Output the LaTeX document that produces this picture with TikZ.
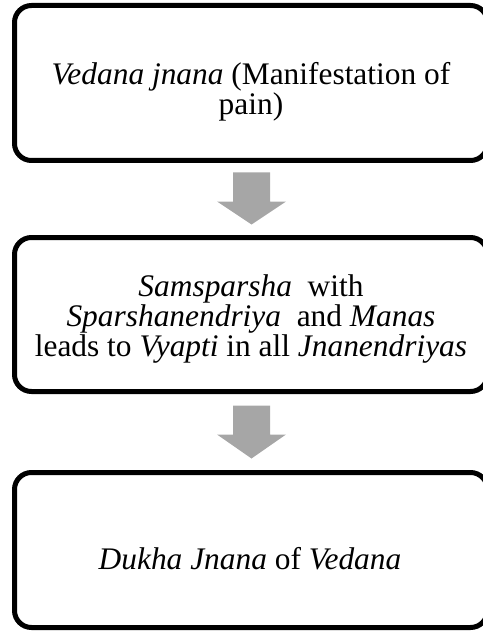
\documentclass[tikz,border=0pt]{standalone}
\usepackage{fontspec}
\setmainfont{Liberation Serif}
\usetikzlibrary{calc}
\definecolor{arrowgray}{HTML}{A6A6A6}
\begin{document}
\begin{tikzpicture}[x=1pt,y=-1pt,
 box/.style={draw=black, line width=5pt, rounded corners=17pt, minimum width=473pt, inner sep=0pt},
 lbl/.style={align=center, font=\fontsize{31.4}{28.3}\selectfont, inner sep=0pt},
 flow/.style={fill=arrowgray, draw=none}]
\useasboundingbox (0,0) rectangle (482,631);
\node[box, minimum height=155pt] (b1) at (251,83) {};
\node[box, minimum height=154pt] (b2) at (251,314.5) {};
\node[box, minimum height=155pt] (b3) at (251,550) {};
\node[lbl] (t1) at (251,92) {\textit{Vedana jnana} (Manifestation of\\pain)};
\node[lbl] (t2) at (251,319) {\textit{Samsparsha}\ \ with\\\textit{Sparshanendriya}\ \ and \textit{Manas}\\leads to \textit{Vyapti} in all \textit{Jnanendriyas}};
\node[lbl] (t3) at (250,559) {\textit{Dukha Jnana} of \textit{Vedana}};
\fill[flow] ($(b1.south)+(-18,9.5)$) -- ($(b1.south)+(19,9.5)$) -- ($(b1.south)+(19,38.5)$) -- ($(b1.south)+(35,38.5)$) -- ($(b2.north)+(0.5,-10.5)$) -- ($(b1.south)+(-34,38.5)$) -- ($(b1.south)+(-18,38.5)$) -- cycle;
\fill[flow] ($(b2.south)+(-18,11.5)$) -- ($(b2.south)+(19,11.5)$) -- ($(b2.south)+(19,40.5)$) -- ($(b2.south)+(35,40.5)$) -- ($(b3.north)+(0.5,-11.5)$) -- ($(b2.south)+(-34,40.5)$) -- ($(b2.south)+(-18,40.5)$) -- cycle;
\end{tikzpicture}
\end{document}
